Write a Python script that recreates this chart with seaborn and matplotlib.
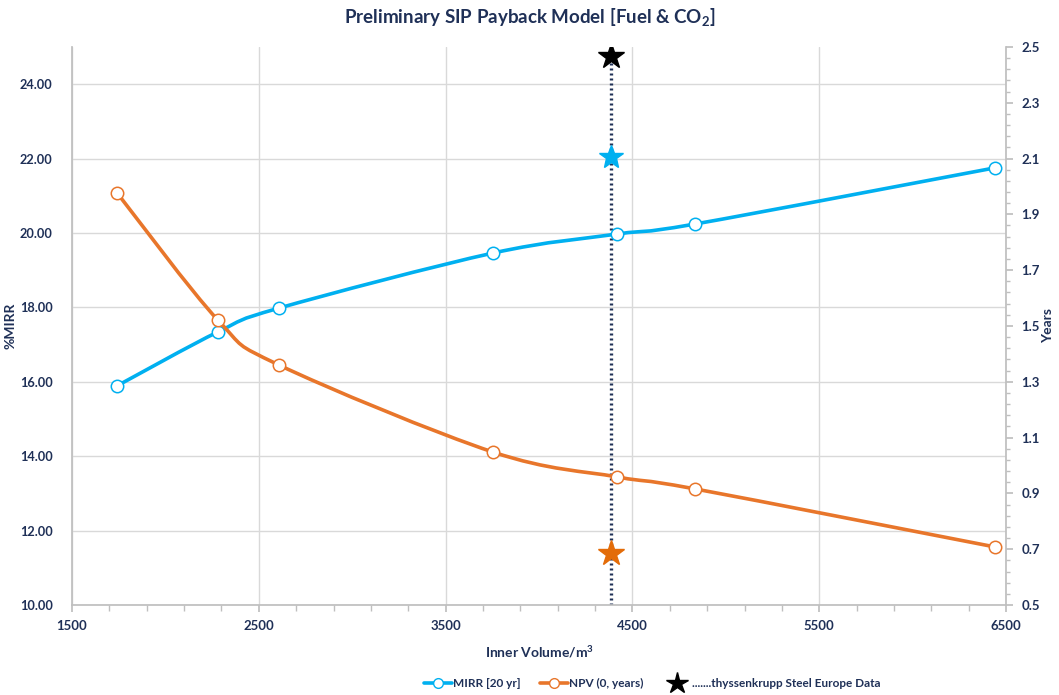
import numpy as np
import pandas as pd
import matplotlib
matplotlib.use("Agg")
import matplotlib.pyplot as plt
from matplotlib.path import Path
from matplotlib.patches import PathPatch
from matplotlib.lines import Line2D
from matplotlib.ticker import FixedLocator, FormatStrFormatter
import seaborn as sns

# ---------------- data ----------------
volume = [1741, 2281, 2608, 3754, 4418, 4835, 6441]
mirr = [15.89, 17.34, 17.98, 19.46, 19.97, 20.24, 21.75]
npv_years = [1.977, 1.521, 1.360, 1.048, 0.959, 0.916, 0.708]

tk_volume = 4385
tk_mirr = 22.04
tk_years = 0.686
tk_marker_top = 24.76

x_ticks = [1500, 2500, 3500, 4500, 5500, 6500]
y_left_ticks = [10, 12, 14, 16, 18, 20, 22, 24]
y_right_ticks = [0.5, 0.7, 0.9, 1.1, 1.3, 1.5, 1.7, 1.9, 2.1, 2.3, 2.5]

series_labels = ["MIRR [20 yr]", "NPV (0, years)", ".......thyssenkrupp Steel Europe Data"]
title = "Preliminary SIP Payback Model [Fuel & CO$_\\mathregular{2}$]"
x_label = "Inner Volume/m$^\\mathregular{3}$"
y_label_left = "%MIRR"
y_label_right = "Years"

# ---------------- style ----------------
sns.set_theme(style="white")
plt.rcParams["font.family"] = ["Lato", "DejaVu Sans"]
NAVY = "#1F3057"
BLUE = "#00B0F0"
ORANGE = "#E8762B"
STAR_ORANGE = "#E36C09"
GRID = "#D9D9D9"
SPINE = "#BFBFBF"

fig = plt.figure(figsize=(10.59, 6.95), dpi=100)
ax = fig.add_axes([0.068, 0.1295, 0.882, 0.803])
ax2 = ax.twinx()


def smooth_path(xs, ys):
    """Catmull-Rom style cubic Bezier path through the given points (Excel-like smoothing)."""
    pts = np.column_stack([xs, ys]).astype(float)
    n = len(pts)
    verts = [pts[0]]
    codes = [Path.MOVETO]
    for i in range(n - 1):
        p0 = pts[i - 1] if i > 0 else pts[i]
        p1 = pts[i]
        p2 = pts[i + 1]
        p3 = pts[i + 2] if i + 2 < n else pts[i + 1]
        c1 = p1 + (p2 - p0) / 6.0
        c2 = p2 - (p3 - p1) / 6.0
        verts += [c1, c2, p2]
        codes += [Path.CURVE4] * 3
    return Path(verts, codes)


df = pd.DataFrame({"volume": volume, "mirr": mirr, "years": npv_years})

# MIRR on left axis
ax.add_patch(PathPatch(smooth_path(volume, mirr), facecolor="none", edgecolor=BLUE,
                       lw=2.6, zorder=3, capstyle="round", joinstyle="round"))
sns.scatterplot(data=df, x="volume", y="mirr", ax=ax, s=80, color="white",
                edgecolor=BLUE, linewidth=1.1, zorder=4, legend=False)

# dotted reference line and stars (left axis)
ax.plot([tk_volume, tk_volume], [10, tk_marker_top], color=NAVY, lw=2.4,
        linestyle=(0, (0.6, 0.9)), zorder=2, dash_capstyle="butt")
ax.plot([tk_volume], [tk_marker_top], marker="*", ms=19, color="black", zorder=5, ls="none")
ax.plot([tk_volume], [tk_mirr], marker="*", ms=18, color=BLUE, zorder=5, ls="none")

# NPV on right axis
ax2.add_patch(PathPatch(smooth_path(volume, npv_years), facecolor="none", edgecolor=ORANGE,
                        lw=2.6, zorder=3, capstyle="round", joinstyle="round"))
sns.scatterplot(data=df, x="volume", y="years", ax=ax2, s=80, color="white",
                edgecolor=ORANGE, linewidth=1.1, zorder=4, legend=False)
ax2.plot([tk_volume], [tk_years], marker="*", ms=19, color=STAR_ORANGE, zorder=5, ls="none")

# ---------------- axes ----------------
ax.set_xlim(1500, 6500)
ax.set_ylim(10, 25)
ax2.set_ylim(0.5, 2.5)

ax.set_xticks(x_ticks)
ax.xaxis.set_minor_locator(FixedLocator(np.arange(1500, 6501, 200)))
ax.set_yticks(y_left_ticks)
ax.yaxis.set_major_formatter(FormatStrFormatter("%.2f"))
ax2.set_yticks(y_right_ticks)
ax2.yaxis.set_minor_locator(FixedLocator(np.arange(0.5, 2.501, 0.04)))
ax2.yaxis.set_major_formatter(FormatStrFormatter("%.1f"))

ax.grid(True, which="major", axis="both", color=GRID, lw=1.0)
ax.set_axisbelow(True)
ax2.grid(False)

for a in (ax, ax2):
    for s in a.spines.values():
        s.set_visible(False)
ax.spines["left"].set_visible(True)
ax.spines["left"].set_color(SPINE)
ax.spines["bottom"].set_visible(True)
ax.spines["bottom"].set_color(SPINE)
ax2.spines["right"].set_visible(True)
ax2.spines["right"].set_color(SPINE)

ax.tick_params(axis="x", which="both", direction="out", color=SPINE, bottom=True,
               labelsize=9.5, labelcolor=NAVY, pad=6)
ax.tick_params(axis="x", which="major", length=5)
ax.tick_params(axis="x", which="minor", length=4)
ax.tick_params(axis="y", which="both", left=False, labelsize=9.2, labelcolor=NAVY, pad=8)
ax2.tick_params(axis="y", which="both", direction="out", color=SPINE, right=True,
                labelsize=9.5, labelcolor=NAVY, pad=6)
ax2.tick_params(axis="y", which="major", length=5)
ax2.tick_params(axis="y", which="minor", length=3)

for lab in ax.get_xticklabels() + ax.get_yticklabels() + ax2.get_yticklabels():
    lab.set_fontweight("bold")

ax.set_xlabel(x_label, fontsize=10, fontweight="bold", color=NAVY, labelpad=8)
ax.set_ylabel(y_label_left, fontsize=10, fontweight="bold", color=NAVY)
ax2.set_ylabel(y_label_right, fontsize=10, fontweight="bold", color=NAVY)
ax.yaxis.set_label_coords(-0.059, 0.5)
ax2.yaxis.set_label_coords(1.039, 0.5)

fig.text(0.5, 0.975, title, ha="center", va="center", fontsize=13.5,
         fontweight="bold", color=NAVY)

# ---------------- legend ----------------
handles = [
    Line2D([0], [0], color=BLUE, lw=2.6, marker="o", ms=7, mfc="white", mec=BLUE),
    Line2D([0], [0], color=ORANGE, lw=2.6, marker="o", ms=7, mfc="white", mec=ORANGE),
    Line2D([0], [0], color="black", lw=0, marker="*", ms=16),
]
leg = fig.legend(handles, series_labels, loc="center", bbox_to_anchor=(0.616, 0.017),
                 ncol=3, frameon=False, fontsize=8.5, handlelength=2.4,
                 handletextpad=0.1, columnspacing=1.6)
for t in leg.get_texts():
    t.set_fontweight("bold")
    t.set_color(NAVY)

fig.savefig("out.png", dpi=100)
